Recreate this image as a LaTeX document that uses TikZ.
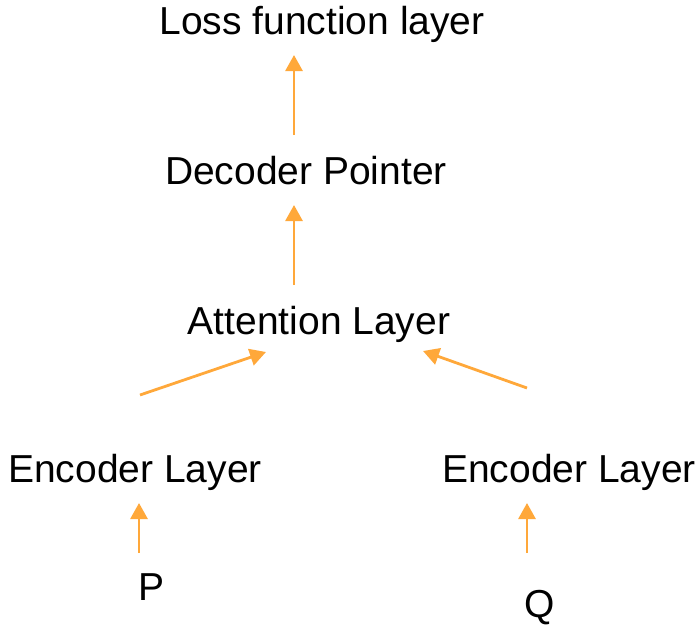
\documentclass[tikz,border=0pt]{standalone}
\usepackage{fontspec}
\setmainfont{Liberation Sans}
\usetikzlibrary{arrows.meta}
\definecolor{flow}{RGB}{255,168,58}
\tikzset{
  lbl/.style={anchor=base, inner sep=0pt, font=\fontsize{39}{39}\selectfont},
  flowarrow/.style={draw=flow, line width=2.8pt, -{Triangle[length=16pt,width=17pt]}}
}
\begin{document}
\begin{tikzpicture}[x=1pt, y=-1pt]
  \useasboundingbox (0,0) rectangle (698,626);
  % layer labels
  \node[lbl] (loss) at (322,35) {Loss function layer};
  \node[lbl] (dec)  at (306,184) {Decoder Pointer};
  \node[lbl] (att)  at (319,334) {Attention Layer};
  \node[lbl] (encp) at (135,482) {Encoder Layer};
  \node[lbl] (encq) at (569,482) {Encoder Layer};
  \node[lbl] (p)    at (152,600) {P};
  \node[lbl] (q)    at (540,617) {Q};
  % arrow end points
  \coordinate (dectop) at (294,135);
  \coordinate (losstip) at (294,55);
  \coordinate (atttop) at (294,285);
  \coordinate (dectip) at (294,205);
  \coordinate (encptop) at (140,395);
  \coordinate (attltip) at (266,352);
  \coordinate (encqtop) at (527,388);
  \coordinate (attrtip) at (423,351);
  \coordinate (ptop) at (139,553);
  \coordinate (encptip) at (139,503);
  \coordinate (qtop) at (527,553);
  \coordinate (encqtip) at (527,503);
  % connectors
  \draw[flowarrow] (dectop) -- (losstip);
  \draw[flowarrow] (atttop) -- (dectip);
  \draw[flowarrow] (encptop) -- (attltip);
  \draw[flowarrow] (encqtop) -- (attrtip);
  \draw[flowarrow] (ptop) -- (encptip);
  \draw[flowarrow] (qtop) -- (encqtip);
\end{tikzpicture}
\end{document}
